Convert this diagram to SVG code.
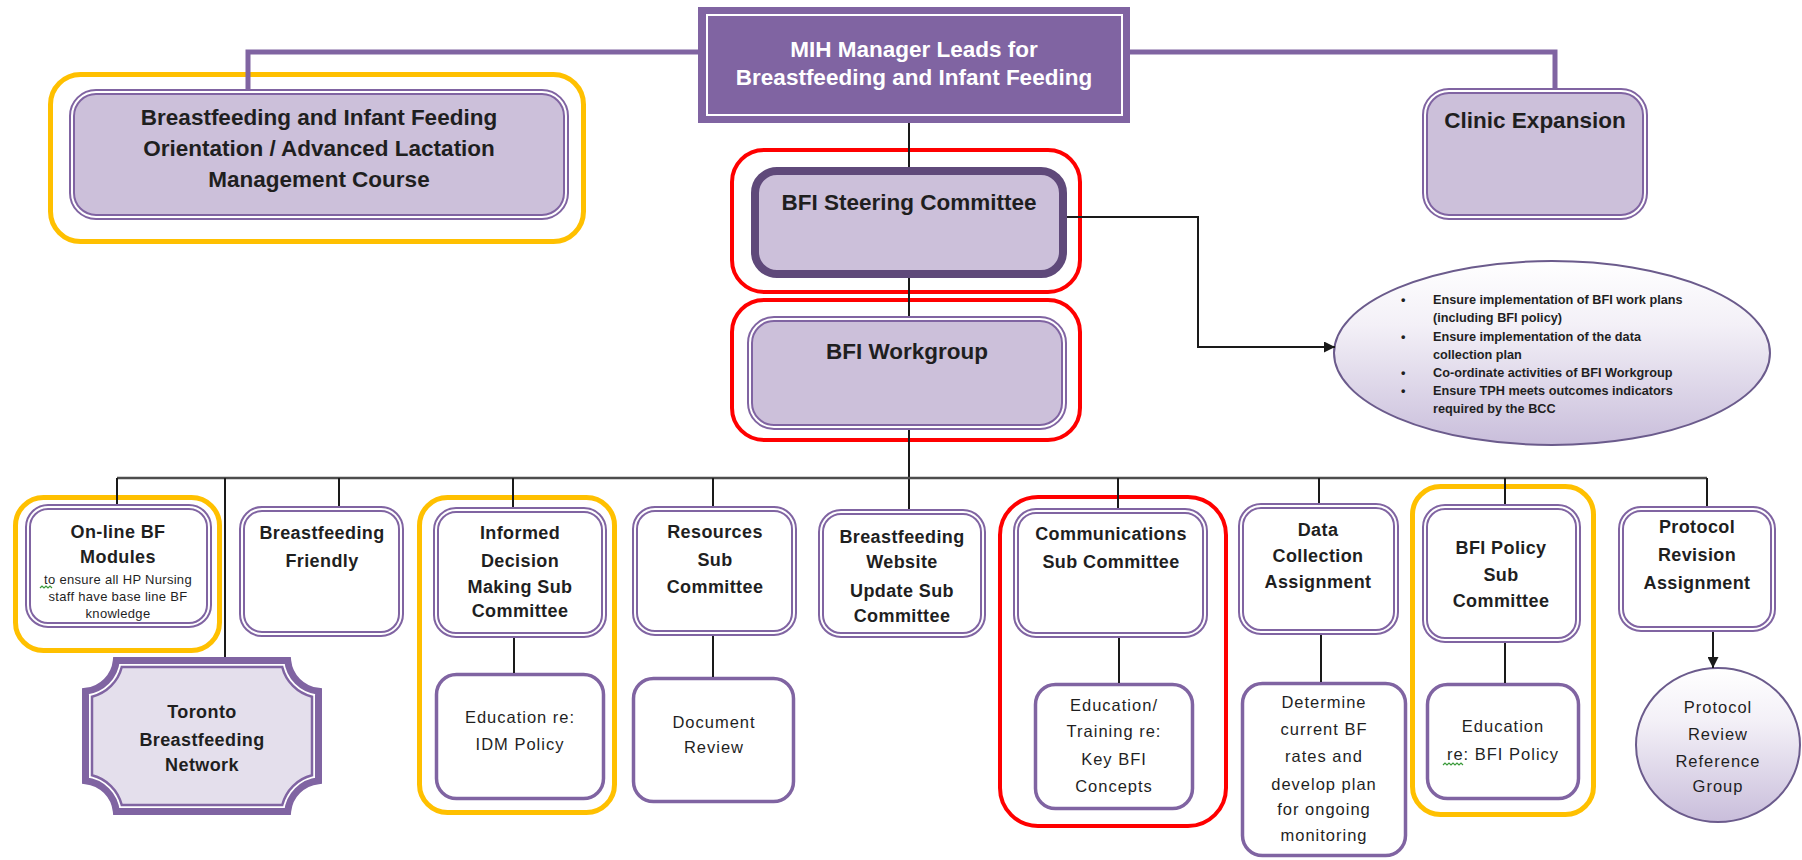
<svg xmlns="http://www.w3.org/2000/svg" width="1802" height="860" viewBox="0 0 1802 860">
<style>
.t{font-family:'Liberation Sans',Arial,sans-serif;fill:#1f1f1f;text-anchor:middle}
.h{font-size:22.5px;font-weight:bold}
.w{fill:#ffffff}
.c{font-size:18px;font-weight:bold;letter-spacing:0.4px}
.s{font-size:16.5px;letter-spacing:1px}
.sm{font-size:13px;letter-spacing:0.3px}
.b{font-family:'Liberation Sans',Arial,sans-serif;fill:#1f1f1f;font-size:12.7px;font-weight:bold;text-anchor:start}
.dbl{stroke:#8064A2;stroke-width:6}
.dblw{fill:none;stroke:#ffffff;stroke-width:2}
.lav{fill:#CCC0DA}
.wf{fill:#ffffff}
.yel{fill:#ffffff;stroke:#FFC000;stroke-width:5}
.red{fill:#ffffff;stroke:#FF0000;stroke-width:4}
.sgl{fill:#ffffff;stroke:#8064A2;stroke-width:3.5}
.pc{fill:none;stroke:#8064A2;stroke-width:5}
.k{fill:none;stroke:#1a1a1a;stroke-width:2}
.bus{fill:none;stroke:#4d4d4d;stroke-width:2.5}
.sq{fill:none;stroke:#3a9a3a;stroke-width:1.2}
</style>
<defs>
<linearGradient id="gr" x1="0" y1="0" x2="0" y2="1">
<stop offset="0" stop-color="#ffffff"/>
<stop offset="0.35" stop-color="#F3F0F7"/>
<stop offset="1" stop-color="#C9BEDB"/>
</linearGradient>
<marker id="ar" viewBox="0 0 10 10" refX="10" refY="5" markerWidth="11" markerHeight="11" markerUnits="userSpaceOnUse" orient="auto">
<path d="M0,0 L10,5 L0,10 z" fill="#1a1a1a"/>
</marker>
</defs>
<rect width="1802" height="860" fill="#ffffff"/>

<g id="mih">
<rect x="698" y="7" width="432" height="116" fill="#8064A2"/>
<rect x="707" y="15" width="415" height="100" fill="none" stroke="#ffffff" stroke-width="2"/>
<text class="t h w" x="914" y="57">MIH Manager Leads for</text>
<text class="t h w" x="914" y="85">Breastfeeding and Infant Feeding</text>
</g>

<g id="orientation">
<rect class="yel" x="50.5" y="74.5" width="533" height="167" rx="30"/>
<rect class="dbl lav" x="72" y="92" width="494" height="125" rx="24"/>
<rect class="dblw" x="72" y="92" width="494" height="125" rx="24"/>
<text class="t h" x="319" y="125">Breastfeeding and Infant Feeding</text>
<text class="t h" x="319" y="156">Orientation / Advanced Lactation</text>
<text class="t h" x="319" y="187">Management Course</text>
</g>

<g id="clinic">
<rect class="dbl lav" x="1425" y="91" width="220" height="126" rx="24"/>
<rect class="dblw" x="1425" y="91" width="220" height="126" rx="24"/>
<text class="t h" x="1535" y="128">Clinic Expansion</text>
</g>

<g id="steering">
<rect class="red" x="732" y="150" width="348" height="142" rx="32"/>
<rect x="755" y="171" width="308" height="103" rx="22" fill="#CCC0DA" stroke="#5F497A" stroke-width="8"/>
<text class="t h" x="909" y="210">BFI Steering Committee</text>
</g>

<g id="workgroup">
<rect class="red" x="732" y="300" width="348" height="140" rx="32"/>
<rect class="dbl lav" x="750" y="319" width="314" height="108" rx="24"/>
<rect class="dblw" x="750" y="319" width="314" height="108" rx="24"/>
<text class="t h" x="907" y="359">BFI Workgroup</text>
</g>

<g id="duties">
<ellipse cx="1552" cy="353" rx="218" ry="92" fill="url(#gr)" stroke="#6B5B8C" stroke-width="2"/>
<text class="b" x="1401" y="304">•</text>
<text class="b" x="1433" y="304">Ensure implementation of BFI work plans</text>
<text class="b" x="1433" y="322">(including BFI policy)</text>
<text class="b" x="1401" y="341">•</text>
<text class="b" x="1433" y="341">Ensure implementation of the data</text>
<text class="b" x="1433" y="359">collection plan</text>
<text class="b" x="1401" y="377">•</text>
<text class="b" x="1433" y="377">Co-ordinate activities of BFI Workgroup</text>
<text class="b" x="1401" y="395">•</text>
<text class="b" x="1433" y="395">Ensure TPH meets outcomes indicators</text>
<text class="b" x="1433" y="413">required by the BCC</text>
</g>

<g id="online">
<rect class="yel" x="15.5" y="497.5" width="204" height="153" rx="28"/>
<rect class="dbl wf" x="28" y="507" width="181" height="118" rx="20"/>
<rect class="dblw" x="28" y="507" width="181" height="118" rx="20"/>
<text class="t c" x="118" y="538">On-line BF</text>
<text class="t c" x="118" y="563">Modules</text>
<text class="t sm" x="118" y="584">to ensure all HP Nursing</text>
<text class="t sm" x="118" y="601">staff have base line BF</text>
<text class="t sm" x="118" y="618">knowledge</text>
<path class="sq" d="M40,588 l2,-2 l2,2 l2,-2 l2,2 l2,-2 l2,2"/>
</g>

<g id="toronto">
<path d="M116.32,660.5 H287.68 A34.5,34.5 0 0 0 318.5,691.32 V780.68 A34.5,34.5 0 0 0 287.68,811.5 H116.32 A34.5,34.5 0 0 0 85.5,780.68 V691.32 A34.5,34.5 0 0 0 116.32,660.5 Z" fill="#ffffff" stroke="#8064A2" stroke-width="7"/>
<path d="M121.76,667 H282.24 A41,41 0 0 0 312,696.76 V775.24 A41,41 0 0 0 282.24,805 H121.76 A41,41 0 0 0 92,775.24 V696.76 A41,41 0 0 0 121.76,667 Z" fill="#E4DFEC" stroke="#8064A2" stroke-width="2.5"/>
<text class="t c" x="202" y="718">Toronto</text>
<text class="t c" x="202" y="746">Breastfeeding</text>
<text class="t c" x="202" y="771">Network</text>
</g>

<g id="friendly">
<rect class="dbl wf" x="242" y="509" width="159" height="125" rx="20"/>
<rect class="dblw" x="242" y="509" width="159" height="125" rx="20"/>
<text class="t c" x="322" y="539">Breastfeeding</text>
<text class="t c" x="322" y="567">Friendly</text>
</g>

<g id="idm">
<rect class="yel" x="419.5" y="497.5" width="195" height="315" rx="28"/>
<rect class="dbl wf" x="436" y="510" width="168" height="125" rx="20"/>
<rect class="dblw" x="436" y="510" width="168" height="125" rx="20"/>
<text class="t c" x="520" y="539">Informed</text>
<text class="t c" x="520" y="567">Decision</text>
<text class="t c" x="520" y="593">Making Sub</text>
<text class="t c" x="520" y="617">Committee</text>
</g>
<g id="idm-edu">
<rect class="sgl" x="436.5" y="674.5" width="167" height="124" rx="20"/>
<text class="t s" x="520" y="723">Education re:</text>
<text class="t s" x="520" y="750">IDM Policy</text>
</g>

<g id="resources">
<rect class="dbl wf" x="635" y="509" width="159" height="124" rx="20"/>
<rect class="dblw" x="635" y="509" width="159" height="124" rx="20"/>
<text class="t c" x="715" y="538">Resources</text>
<text class="t c" x="715" y="566">Sub</text>
<text class="t c" x="715" y="593">Committee</text>
</g>
<g id="document">
<rect class="sgl" x="633.5" y="678.5" width="160" height="123" rx="20"/>
<text class="t s" x="714" y="728">Document</text>
<text class="t s" x="714" y="753">Review</text>
</g>

<g id="website">
<rect class="dbl wf" x="821" y="512" width="162" height="123" rx="20"/>
<rect class="dblw" x="821" y="512" width="162" height="123" rx="20"/>
<text class="t c" x="902" y="543">Breastfeeding</text>
<text class="t c" x="902" y="568">Website</text>
<text class="t c" x="902" y="597">Update Sub</text>
<text class="t c" x="902" y="622">Committee</text>
</g>

<g id="communications">
<rect class="red" x="1000" y="497" width="226" height="329" rx="38"/>
<rect class="dbl wf" x="1016" y="511" width="189" height="124" rx="20"/>
<rect class="dblw" x="1016" y="511" width="189" height="124" rx="20"/>
<text class="t c" x="1111" y="540">Communications</text>
<text class="t c" x="1111" y="568">Sub Committee</text>
</g>
<g id="comm-edu">
<rect class="sgl" x="1035.5" y="684.5" width="157" height="124" rx="20"/>
<text class="t s" x="1114" y="711">Education/</text>
<text class="t s" x="1114" y="737">Training re:</text>
<text class="t s" x="1114" y="765">Key BFI</text>
<text class="t s" x="1114" y="792">Concepts</text>
</g>

<g id="data">
<rect class="dbl wf" x="1241" y="506" width="155" height="126" rx="20"/>
<rect class="dblw" x="1241" y="506" width="155" height="126" rx="20"/>
<text class="t c" x="1318" y="536">Data</text>
<text class="t c" x="1318" y="562">Collection</text>
<text class="t c" x="1318" y="588">Assignment</text>
</g>
<g id="determine">
<rect class="sgl" x="1242.5" y="683.5" width="163" height="172" rx="20"/>
<text class="t s" x="1324" y="708">Determine</text>
<text class="t s" x="1324" y="735">current BF</text>
<text class="t s" x="1324" y="762">rates and</text>
<text class="t s" x="1324" y="790">develop plan</text>
<text class="t s" x="1324" y="815">for ongoing</text>
<text class="t s" x="1324" y="841">monitoring</text>
</g>

<g id="policy">
<rect class="yel" x="1412.5" y="486.5" width="181" height="328" rx="28"/>
<rect class="dbl wf" x="1425" y="507" width="153" height="133" rx="20"/>
<rect class="dblw" x="1425" y="507" width="153" height="133" rx="20"/>
<text class="t c" x="1501" y="554">BFI Policy</text>
<text class="t c" x="1501" y="581">Sub</text>
<text class="t c" x="1501" y="607">Committee</text>
</g>
<g id="policy-edu">
<rect class="sgl" x="1427.5" y="684.5" width="151" height="114" rx="20"/>
<text class="t s" x="1503" y="732">Education</text>
<text class="t s" x="1503" y="760">re: BFI Policy</text>
<path class="sq" d="M1443,765 l2,-2 l2,2 l2,-2 l2,2 l2,-2 l2,2 l2,-2 l2,2 l2,-2 l2,2"/>
</g>

<g id="protocol">
<rect class="dbl wf" x="1621" y="509" width="152" height="120" rx="20"/>
<rect class="dblw" x="1621" y="509" width="152" height="120" rx="20"/>
<text class="t c" x="1697" y="533">Protocol</text>
<text class="t c" x="1697" y="561">Revision</text>
<text class="t c" x="1697" y="589">Assignment</text>
</g>

<g id="reference">
<ellipse cx="1718" cy="745" rx="82" ry="77" fill="url(#gr)" stroke="#6B5B8C" stroke-width="2"/>
<text class="t s" x="1718" y="713">Protocol</text>
<text class="t s" x="1718" y="740">Review</text>
<text class="t s" x="1718" y="767">Reference</text>
<text class="t s" x="1718" y="792">Group</text>
</g>

<g id="connectors">
<polyline class="pc" points="698,52 248,52 248,89"/>
<polyline class="pc" points="1130,52 1555,52 1555,88"/>
<line class="k" x1="909" y1="123" x2="909" y2="167"/>
<line class="k" x1="909" y1="278" x2="909" y2="316"/>
<line class="k" x1="909" y1="430" x2="909" y2="509"/>
<line class="bus" x1="117" y1="478" x2="1707" y2="478"/>
<line class="k" x1="117" y1="478" x2="117" y2="504"/>
<line class="k" x1="225" y1="478" x2="225" y2="657"/>
<line class="k" x1="339" y1="478" x2="339" y2="506"/>
<line class="k" x1="513" y1="478" x2="513" y2="507"/>
<line class="k" x1="713" y1="478" x2="713" y2="506"/>
<line class="k" x1="1118" y1="478" x2="1118" y2="508"/>
<line class="k" x1="1319" y1="478" x2="1319" y2="503"/>
<line class="k" x1="1505" y1="478" x2="1505" y2="504"/>
<line class="k" x1="1707" y1="478" x2="1707" y2="506"/>
<line class="k" x1="514" y1="638" x2="514" y2="673"/>
<line class="k" x1="713" y1="636" x2="713" y2="677"/>
<line class="k" x1="1119" y1="638" x2="1119" y2="683"/>
<line class="k" x1="1321" y1="635" x2="1321" y2="682"/>
<line class="k" x1="1505" y1="643" x2="1505" y2="683"/>
<polyline class="k" points="1067,217 1198,217 1198,347 1335,347" marker-end="url(#ar)"/>
<line class="k" x1="1713" y1="632" x2="1713" y2="668" marker-end="url(#ar)"/>
</g>
</svg>
